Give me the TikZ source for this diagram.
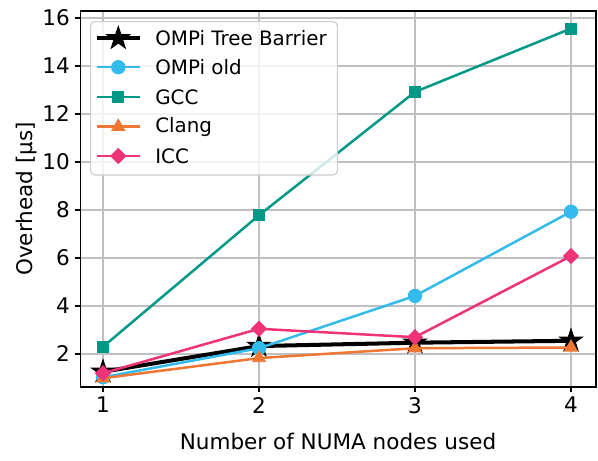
\documentclass[tikz,border=0pt]{standalone}
\usepackage{fontspec}
\setmainfont{DejaVu Sans}
\usetikzlibrary{plotmarks}
\definecolor{tolcyan}{HTML}{33BBEE}
\definecolor{tolteal}{HTML}{009988}
\definecolor{tolorange}{HTML}{EE7733}
\definecolor{tolmagenta}{HTML}{EE3377}
\definecolor{gridgray}{HTML}{B0B0B0}
\pgfdeclareplotmark{fstar}{%
  \pgfpathmoveto{\pgfpointpolar{90}{\pgfplotmarksize}}%
  \pgfpathlineto{\pgfpointpolar{126}{0.382\pgfplotmarksize}}%
  \pgfpathlineto{\pgfpointpolar{162}{\pgfplotmarksize}}%
  \pgfpathlineto{\pgfpointpolar{198}{0.382\pgfplotmarksize}}%
  \pgfpathlineto{\pgfpointpolar{234}{\pgfplotmarksize}}%
  \pgfpathlineto{\pgfpointpolar{270}{0.382\pgfplotmarksize}}%
  \pgfpathlineto{\pgfpointpolar{306}{\pgfplotmarksize}}%
  \pgfpathlineto{\pgfpointpolar{342}{0.382\pgfplotmarksize}}%
  \pgfpathlineto{\pgfpointpolar{18}{\pgfplotmarksize}}%
  \pgfpathlineto{\pgfpointpolar{54}{0.382\pgfplotmarksize}}%
  \pgfpathclose\pgfusepathqfillstroke}
\begin{document}
\begin{tikzpicture}[x=112.32pt,y=17.28pt,font=\fontsize{15.5}{19}\selectfont,
    tree/.style={black,line width=2.9pt,mark=fstar,mark size=8.6pt,mark options={fill=black,line width=0.7pt,line join=miter}},
    old/.style={tolcyan,line width=1.8pt,mark=*,mark size=4.8pt,mark options={fill=tolcyan,line width=0.7pt}},
    gcc/.style={tolteal,line width=1.8pt,mark=square*,mark size=4pt,mark options={fill=tolteal,line width=0.7pt}},
    clang/.style={tolorange,line width=1.8pt,mark=triangle*,mark size=5.3pt,mark options={fill=tolorange,line width=0.7pt}},
    icc/.style={tolmagenta,line width=1.8pt,mark=square*,mark size=3.8pt,mark options={fill=tolmagenta,line width=0.7pt,rotate=45}}]
        \useasboundingbox(0.3397,-2.458)rectangle(4.1731,16.75);
        % grid
        \foreach \x in{1,2,3,4}
        \draw[gridgray!80,line width=0.8pt](\x,0.625)--(\x,16.29);
        \foreach \y in{2,4,...,16}
        \draw[gridgray!80,line width=0.8pt](0.853,\y)--(4.160,\y);
        % ticks and labels
        \foreach \x in{1,2,3,4}
        \draw[line width=0.8pt](\x,0.625)--++(0,-3.5pt)node[below=3.5pt,inner sep=0pt](xt\x){\x};
        \foreach \y in{2,4,...,16}
        \draw[line width=0.8pt](0.853,\y)--++(-3.5pt,0)node[left=3.5pt,inner sep=0pt](yt\y){\y};
        \node(xlab)at(2.5065,-1.625){Number of NUMA nodes used};
        \node[rotate=90](ylab)at(0.5128,8.46){Overhead [μs]};
        % data
        \draw[tree]plot coordinates{(1,1.26)(2,2.33)(3,2.47)(4,2.55)};
        \draw[old]plot coordinates{(1,1.03)(2,2.24)(3,4.42)(4,7.93)};
        \draw[gcc]plot coordinates{(1,2.3)(2,7.78)(3,12.92)(4,15.56)};
        \draw[clang]plot coordinates{(1,0.99)(2,1.83)(3,2.24)(4,2.27)};
        \draw[icc]plot coordinates{(1,1.2)(2,3.05)(3,2.7)(4,6.08)};
        \draw[line width=0.8pt](0.853,0.625)rectangle(4.160,16.29);
        % legend
        \draw[black!20,fill=white,fill opacity=0.8,line width=0.8pt,rounded corners=3pt](0.921,9.46)rectangle(2.502,15.85);
        \foreach \s/\yy/\t in{tree/15.15/OMPi Tree Barrier,old/13.95/OMPi old,gcc/12.70/GCC,clang/11.47/Clang,icc/10.25/ICC}{
        \draw[\s]plot[mark indices={2}]coordinates{(0.9596,\yy)(1.098,\yy)(1.2372,\yy)};
        \node[anchor=west,inner sep=0pt,font=\fontsize{14.3}{17}\selectfont](lab\s)at(1.3333,\yy){\t};
        }
    \end{tikzpicture}
\end{document}
